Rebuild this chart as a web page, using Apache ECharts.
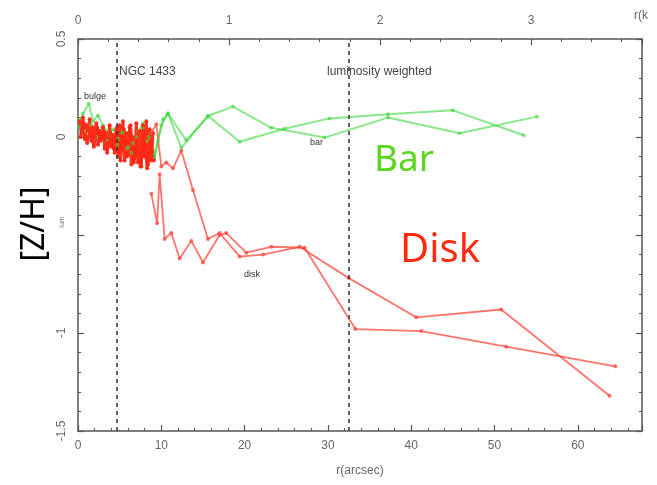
<!DOCTYPE html>
<html><head><meta charset="utf-8">
<script src="https://cdn.jsdelivr.net/npm/echarts@6/dist/echarts.min.js"></script>
<style>html,body{margin:0;padding:0;background:#fff}#c{width:657px;height:485px}</style>
</head><body><div id="c"></div>
<script>
// ---- data (r in arcsec, [Z/H]) ----
const bulgeRedR = [0.2,0.4,0.6,0.8,1.0,1.2,1.4,1.6,1.8,2.0,2.2,2.4,2.6,2.8,3.0,3.2,3.4,3.6,3.8,4.0,4.2,4.4,4.6,4.8,5.0,5.2,5.4,5.6,5.8,6.0,6.2,6.4,6.6,6.8,7.0,7.2,7.4,7.6,7.8,8.0,8.2,8.4,8.6,8.8,9.0];
const bulgeRedZ = [0.08,0.02,0.10,-0.01,0.06,0.03,0.09,-0.02,0.05,0.00,0.07,-0.04,0.03,-0.01,0.05,-0.06,0.02,-0.03,0.06,-0.05,0.01,-0.08,0.04,-0.10,0.06,-0.07,0.08,-0.12,0.02,-0.09,0.05,-0.14,0.00,-0.11,0.07,-0.13,0.03,-0.15,0.06,-0.10,0.08,-0.14,0.04,-0.12,0.02];
const bulgeRed2R = [0.3,0.7,1.1,1.5,1.9,2.3,2.7,3.1,3.5,3.9,4.3,4.7,5.1,5.5,5.9,6.3,6.7,7.1,7.5,7.9,8.3,8.7,9.1];
const bulgeRed2Z = [0.00,0.07,-0.03,0.04,-0.05,0.05,-0.02,0.03,-0.08,0.02,-0.06,0.05,-0.12,0.04,-0.10,0.06,-0.13,-0.02,-0.15,0.01,-0.16,-0.03,-0.12];
const disk1R = [8.8,9.4,10.0,10.6,11.4,12.4,13.8,15.6,17.0,19.4,22.2,26.6,32.5,40.6,50.8,63.8];
const disk1Z = [0.02,0.065,-0.15,-0.13,-0.16,-0.07,-0.27,-0.52,-0.49,-0.61,-0.60,-0.56,-0.72,-0.92,-0.88,-1.32];
const disk2R = [8.8,9.5,9.8,10.4,11.2,12.2,13.6,15.0,17.0,17.8,20.2,23.2,27.2,33.3,41.2,51.4,64.5];
const disk2Z = [-0.29,-0.44,-0.19,-0.52,-0.49,-0.62,-0.53,-0.64,-0.50,-0.49,-0.59,-0.56,-0.565,-0.98,-0.99,-1.07,-1.17];
const bar1R = [0.1,0.6,1.3,1.8,2.4,3.0,3.6,4.2,4.8,5.4,6.0,6.4,7.0,7.8,8.3,8.8,9.2,9.6,10.2,10.8,13.0,15.6,18.6,23.2,29.6,37.2,45.8,55.1];
const bar1Z = [0.05,0.12,0.17,0.08,0.11,0.06,0.02,0.04,-0.01,0.03,-0.05,-0.08,0.00,0.05,-0.02,0.02,-0.11,-0.02,0.09,0.12,-0.017,0.107,0.155,0.047,-0.003,0.099,0.019,0.104];
const bar2R = [0.2,0.9,1.6,2.2,2.9,3.5,4.1,4.7,5.3,5.9,6.6,7.3,7.8,8.5,9.2,10.0,10.8,12.4,15.6,19.4,24.8,30.2,37.2,45.0,53.5];
const bar2Z = [0.09,0.03,0.06,0.0,0.04,-0.02,0.01,-0.04,0.02,-0.06,-0.03,0.03,0.07,0.0,-0.09,0.06,0.12,-0.055,0.107,-0.024,0.042,0.095,0.116,0.136,0.009];
const dashedR = [4.64, 32.5];
const xTicks = [0,10,20,30,40,50,60];
const yTicks = [0.5,0,-1,-1.5];

const zip = (a,b)=>a.map((v,i)=>[v,b[i]]);
const RED='rgba(255,70,60,0.75)', GREEN='rgba(60,215,60,0.6)';
function line(name, r, z, color, w, sym){
  return {name, type:'line', data:zip(r,z), xAxisIndex:0, yAxisIndex:0,
    symbol:'circle', symbolSize:sym, showSymbol:true,
    lineStyle:{color, width:w}, itemStyle:{color}, animation:false, z:3};
}
const axisCol='#555';
const chart = echarts.init(document.getElementById('c'));
function axisCommon(){
  return {
    axisLine:{show:true,onZero:false,lineStyle:{color:axisCol,width:1.5}},
    axisTick:{show:true,inside:true,length:6,lineStyle:{color:axisCol,width:1.2}},
    minorTick:{show:true,splitNumber:5,length:3,lineStyle:{color:axisCol,width:1}},
    splitLine:{show:false}
  };
}
chart.setOption({
  animation:false,
  grid:{left:78,right:15,top:39,bottom:54},
  xAxis:[
    Object.assign(axisCommon(),{type:'value',position:'bottom',min:0,max:67.7,interval:10,
     axisLabel:{showMaxLabel:false,color:'#666',fontSize:12,fontFamily:'Liberation Sans',margin:9},
     name:'r(arcsec)',nameLocation:'middle',nameGap:34,nameTextStyle:{color:'#666',fontSize:12,fontFamily:'Liberation Sans'}}),
    Object.assign(axisCommon(),{type:'value',position:'top',min:0,max:3.735,interval:1,
     axisLabel:{showMaxLabel:false,color:'#666',fontSize:12,fontFamily:'Liberation Sans',margin:12}})
  ],
  yAxis:[
    Object.assign(axisCommon(),{type:'value',position:'left',min:-1.5,max:0.5,interval:0.5,
     axisLabel:{rotate:90,color:'#666',fontSize:12,fontFamily:'Liberation Sans',margin:10,
       formatter:v=>yTicks.some(t=>Math.abs(t-v)<1e-9)? String(v):''}}),
    Object.assign(axisCommon(),{type:'value',position:'right',min:-1.5,max:0.5,interval:0.5,
     axisLabel:{show:false}})
  ],
  series:[
    line('bar1',bar1R,bar1Z,GREEN,2,4),
    line('bar2',bar2R,bar2Z,GREEN,2,4),
    line('bulgeRed',bulgeRedR,bulgeRedZ,'rgba(255,40,20,0.95)',3,4),
    line('bulgeRed2',bulgeRed2R,bulgeRed2Z,'rgba(255,40,20,0.95)',3,4),
    line('disk1',disk1R,disk1Z,RED,1.8,4),
    line('disk2',disk2R,disk2Z,RED,1.8,4),
    {type:'line',data:[],xAxisIndex:0,yAxisIndex:0,
     markLine:{silent:true,symbol:'none',label:{show:false},
       lineStyle:{color:'#333',type:[4,4],width:1.5},
       data:dashedR.map(v=>({xAxis:v}))}}
  ],
  graphic:[
    {type:'text',left:119,top:66,style:{text:'NGC 1433',fill:'#444',font:'12px "Liberation Sans"'}},
    {type:'text',left:327,top:66,style:{text:'luminosity weighted',fill:'#444',font:'12px "Liberation Sans"'}},
    {type:'text',left:84,top:92,style:{text:'bulge',fill:'#333',font:'9px "Liberation Sans"'}},
    {type:'text',left:310,top:138,style:{text:'bar',fill:'#333',font:'9px "Liberation Sans"'}},
    {type:'text',left:244,top:270,style:{text:'disk',fill:'#333',font:'9px "Liberation Sans"'}},
    {type:'text',left:374,top:142,style:{text:'Bar',fill:'#5ad61e',font:'37px "Noto Sans"'}},
    {type:'text',left:400,top:231,style:{text:'Disk',fill:'#ff2a10',font:'40px "Noto Sans"'}},
    {type:'text',left:634,top:10,style:{text:'r(k',fill:'#666',font:'12px "Liberation Sans"'}},
    {type:'text',x:35,y:224,rotation:Math.PI/2,style:{text:'[Z/H]',fill:'#000',font:'32px "Noto Sans"',align:'center',verticalAlign:'middle'}},
    {type:'text',x:62,y:222,rotation:Math.PI/2,style:{text:'lum',fill:'#777',font:'7px "Liberation Sans"',align:'center',verticalAlign:'middle'}}
  ]
});
</script></body></html>
